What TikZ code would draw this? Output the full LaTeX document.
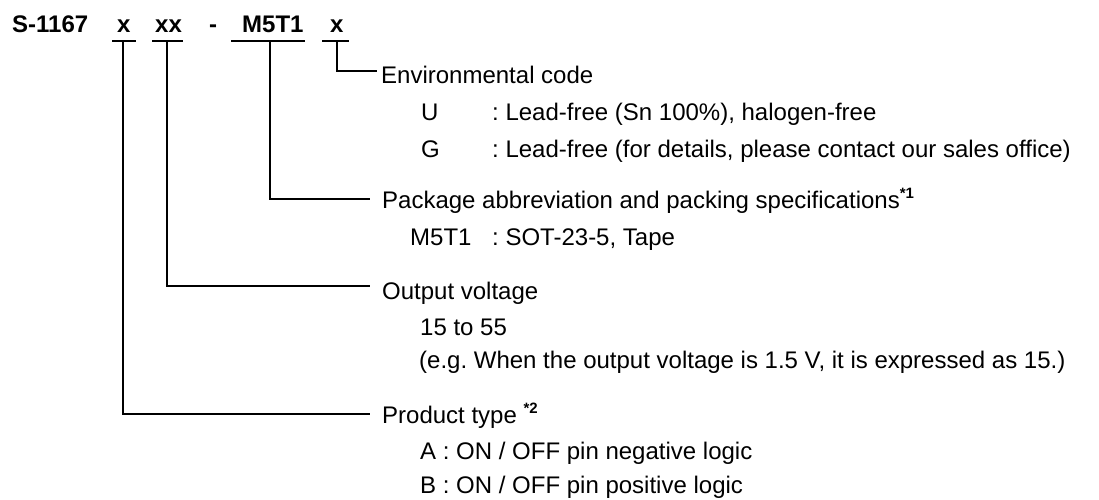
\documentclass[tikz,border=0pt]{standalone}
\usepackage{fontspec}
\setmainfont{Liberation Sans}
\frenchspacing
\begin{document}
\begin{tikzpicture}[x=1pt,y=-1pt,
  txt/.style={anchor=base west,inner sep=0pt,font=\fontsize{24}{28}\selectfont},
  ttl/.style={anchor=base west,inner sep=0pt,font=\fontsize{24}{28}\selectfont\bfseries},
  ln/.style={line width=2pt,line cap=rect}]
\useasboundingbox (0,0) rectangle (1099,499);
\newcommand{\supmark}[1]{\raisebox{9.5pt}{\fontsize{15}{15}\selectfont\bfseries #1}}
% title
\node[ttl] (t0) at (12,32) {S-1167};
\node[ttl] (t1) at (117,32) {x};
\node[ttl] (t2) at (155,32) {xx};
\node[ttl] (td) at (209,32) {-};
\node[ttl] (t3) at (242,32) {M5T1};
\node[ttl] (t4) at (330,32) {x};
% underline ends
\coordinate (u1a) at (113,41); \coordinate (u1b) at (135,41); \coordinate (u1) at (123,41);
\coordinate (u2a) at (153,41); \coordinate (u2b) at (182,41); \coordinate (u2) at (167,41);
\coordinate (u3a) at (232,41); \coordinate (u3b) at (304,41); \coordinate (u3) at (270,41);
\coordinate (u4a) at (323,41); \coordinate (u4b) at (348,41); \coordinate (u4) at (337,41);
\draw[ln] (u1a) -- (u1b);
\draw[ln] (u2a) -- (u2b);
\draw[ln] (u3a) -- (u3b);
\draw[ln] (u4a) -- (u4b);
% labels
\node[txt] (env) at (381,83) {Environmental code};
\node[txt] (envU) at (421,120) {U};
\node[txt] (envUd) at (492,120) {: Lead-free (Sn 100\%), halogen-free};
\node[txt] (envG) at (421,157) {G};
\node[txt] (envGd) at (492,157) {: Lead-free (for details, please contact our sales office)};
\node[txt] (pkg) at (382,208) {Package abbreviation and packing specifications\supmark{*1}};
\node[txt] (pkgM) at (410,245) {M5T1};
\node[txt] (pkgMd) at (492,245) {: SOT-23-5, Tape};
\node[txt] (out) at (382,299) {Output voltage};
\node[txt] (outR) at (420,335) {15 to 55};
\node[txt] (outE) at (419,368) {(e.g. When the output voltage is 1.5 V, it is expressed as 15.)};
\node[txt] (prod) at (382,423) {Product type \supmark{*2}};
\node[txt] (prodA) at (420,459) {A : ON / OFF pin negative logic};
\node[txt] (prodB) at (420,493) {B : ON / OFF pin positive logic};
% connector ends
\coordinate (e4) at (377,71);
\coordinate (e3) at (370,199);
\coordinate (e2) at (370,286);
\coordinate (e1) at (370,414);
\draw[ln,line cap=butt] (u4) |- (e4);
\draw[ln,line cap=butt] (u3) |- (e3);
\draw[ln,line cap=butt] (u2) |- (e2);
\draw[ln,line cap=butt] (u1) |- (e1);
\end{tikzpicture}
\end{document}
